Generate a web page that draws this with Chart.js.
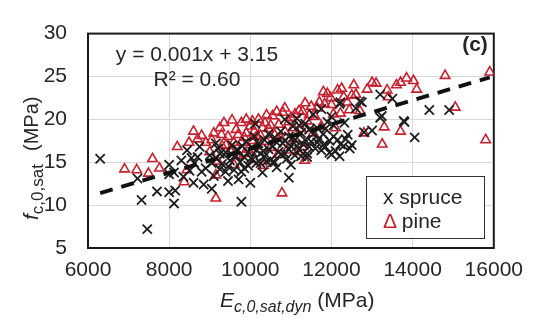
<!DOCTYPE html>
<html>
<head>
<meta charset="utf-8">
<script src="https://cdn.jsdelivr.net/npm/chart.js@4.4.1/dist/chart.umd.min.js"></script>
<style>
  body { margin: 0; background: #fff; }
  canvas { display: block; }
</style>
</head>
<body>
<canvas id="chart" width="533" height="327"></canvas>
<script>
// Spruce: dynamic modulus (MPa) vs compressive strength (MPa)
const spruceE = [
  6300, 7220, 7320, 7460, 7700, 8000, 8000, 8000, 8120, 8120,
  8150, 8300, 8440, 8500, 8600, 8620, 8700, 8750, 8850, 8900,
  9000, 9050, 9100, 9150, 9200, 9300, 9350, 9390, 9400, 9450,
  9500, 9550, 9600, 9650, 9710, 9780, 9780, 9800, 9850, 9900,
  9950, 10000, 10020, 10050, 10100, 10120, 10150, 10200, 10250, 10320,
  10350, 10400, 10450, 10510, 10550, 10600, 10650, 10700, 10750, 10800,
  10850, 10850, 10900, 10950, 10950, 11000, 11050, 11100, 11100, 11150,
  11200, 11250, 11300, 11350, 11400, 11450, 11500, 11550, 11600, 11650,
  11700, 11750, 11800, 11850, 11900, 11950, 12000, 12050, 12100, 12200,
  12200, 12220, 12220, 12300, 12320, 12400, 12500, 12600, 12700, 12750,
  12800, 13000, 13200, 13200, 13240, 13500, 13780, 13800, 14050, 14410,
  14900, 9250, 9700, 10300, 10600, 11000, 11200, 11400, 11800, 12000,
  9050, 9150, 9250, 9450, 9550, 9650, 9750, 9850, 9950, 10050,
  10150, 10250, 10350, 10450, 10550, 10650, 10750, 10850, 10950, 11050,
  11150, 11250, 11350, 11450, 11550, 11650, 11750, 11850, 11950, 12050,
  12150, 12350, 12450, 8350, 8550, 8800
];
const spruceF = [
  15.4, 13.1, 10.6, 7.2, 11.6, 11.5, 14.7, 13.6, 13.8, 10.2,
  11.7, 15.2, 16.4, 14.0, 12.6, 14.9, 15.6, 16.8, 12.4, 14.3,
  15.8, 11.9, 13.4, 17.2, 16.6, 14.8, 15.9, 13.9, 16.1, 12.8,
  15.2, 17.0, 14.1, 15.7, 13.0, 13.9, 10.4, 16.9, 15.6, 17.4,
  14.6, 12.6, 15.5, 16.7, 18.0, 19.5, 14.9, 17.2, 16.0, 16.3,
  17.6, 15.1, 18.3, 15.3, 16.8, 17.9, 14.4, 16.2, 18.6, 17.2,
  16.0, 20.0, 15.4, 13.2, 18.0, 16.9, 19.2, 15.8, 17.6, 20.1,
  16.5, 18.4, 17.1, 19.5, 16.0, 18.8, 17.4, 20.6, 16.6, 19.0,
  17.8, 21.2, 18.3, 16.8, 19.7, 17.5, 20.3, 18.0, 16.3, 21.8,
  15.7, 17.1, 22.0, 16.9, 19.6, 18.2, 17.0, 21.3, 22.1, 22.0,
  18.5, 18.7, 22.9, 20.2, 20.4, 22.4, 19.8, 19.7, 17.9, 21.1,
  21.1, 14.2, 16.4, 13.8, 15.0, 14.7, 19.3, 15.6, 17.0, 15.9,
  14.9, 15.5, 16.0, 14.5, 15.9, 16.4, 15.0, 14.3, 16.2, 15.3,
  16.4, 14.9, 15.7, 16.5, 15.0, 17.3, 15.9, 17.5, 16.5, 17.9,
  16.9, 15.7, 17.6, 16.8, 18.3, 17.3, 16.4, 18.9, 16.1, 19.3,
  17.6, 17.7, 16.6, 13.3, 15.5, 13.9
];

// Pine
const pineE = [
  6900, 7200, 7490, 7590, 7760, 8200, 8370, 8440, 8490, 8600,
  8700, 8900, 9000, 9100, 9150, 9150, 9200, 9290, 9350, 9400,
  9500, 9590, 9600, 9650, 9700, 9780, 9780, 9850, 9900, 9950,
  10000, 10050, 10100, 10100, 10150, 10200, 10250, 10320, 10360, 10400,
  10450, 10500, 10550, 10600, 10680, 10700, 10750, 10780, 10800, 10850,
  10900, 11000, 11050, 11100, 11170, 11200, 11250, 11290, 11300, 11340,
  11400, 11500, 11550, 11600, 11700, 11750, 11830, 11900, 11980, 12050,
  12100, 12150, 12220, 12300, 12390, 12440, 12500, 12550, 12700, 12800,
  12880, 13000, 13100, 13250, 13300, 13370, 13400, 13600, 13700, 13700,
  13850, 14020, 14100, 14800, 15050, 15800, 15900,
  8800, 9050, 9250, 9450, 9550, 9700, 9900, 10050, 10150, 10300,
  10400, 10500, 10650, 10850, 10950, 11100, 11350, 11450, 11650, 11800,
  12000, 12250, 12600, 9300, 9850
];
const pineF = [
  14.2, 14.1, 13.7, 15.4, 14.3, 16.8, 12.7, 14.1, 17.3, 18.6,
  17.7, 17.3, 16.2, 18.4, 13.5, 10.8, 15.1, 18.2, 19.6, 17.0,
  16.4, 17.3, 14.7, 18.8, 15.8, 17.3, 19.6, 17.9, 18.4, 16.5,
  19.2, 17.5, 18.6, 15.3, 16.9, 20.0, 18.1, 14.6, 19.6, 17.4,
  18.9, 16.7, 20.4, 18.2, 15.9, 19.4, 17.8, 11.4, 20.8, 18.6,
  16.4, 20.2, 19.0, 17.7, 16.2, 21.0, 18.9, 20.9, 16.8, 15.2,
  19.8, 21.5, 18.4, 20.3, 22.0, 19.2, 21.8, 23.0, 22.5, 20.6,
  19.0, 23.4, 20.7, 22.6, 22.0, 21.1, 22.8, 24.0, 21.0, 18.4,
  23.5, 24.3, 24.2, 17.1, 19.1, 23.4, 22.6, 24.0, 24.3, 18.6,
  24.8, 24.5, 23.5, 25.1, 21.4, 17.6, 25.5,
  18.1, 17.6, 19.0, 18.0, 19.9, 18.2, 20.0, 19.8, 18.0, 19.0,
  20.5, 19.3, 20.9, 21.3, 19.7, 20.6, 21.9, 20.5, 21.3, 23.2,
  21.7, 23.6, 22.9, 16.9, 16.0
];

// Trend line end points as drawn in the figure
const trendE = [6300, 15900];
const trendF = [11.4, 24.9];

const xTicks = [6000, 8000, 10000, 12000, 14000, 16000];
const yTicks = [5, 10, 15, 20, 25, 30];

const RED = 'rgb(200, 32, 46)';
const INK = '#262626';
const FONT = 'Arial, "Liberation Sans"';

function toPoints(xs, ys) {
  return xs.map((x, i) => ({ x: x, y: ys[i] }));
}

function drawParts(ctx, parts, startX, baseY) {
  let x = startX;
  ctx.textAlign = 'left';
  ctx.fillStyle = INK;
  parts.forEach(p => {
    ctx.font = p.f;
    if (p.at !== undefined) x = p.at;
    ctx.fillText(p.t, x, baseY + p.dy);
    x += ctx.measureText(p.t).width;
  });
}

// Titles, frame, equation and legend box drawn by hand
const decorations = {
  id: 'decorations',
  beforeDatasetsDraw(chart) {
    const { ctx, chartArea: a } = chart;
    ctx.save();
    ctx.strokeStyle = '#1a1a1a';
    ctx.lineWidth = 2;
    ctx.strokeRect(a.left, a.top, a.right - a.left, a.bottom - a.top);
    ctx.restore();
  },
  afterDraw(chart) {
    const { ctx } = chart;
    ctx.save();
    ctx.fillStyle = INK;
    ctx.textBaseline = 'alphabetic';

    // equation
    ctx.font = '21px ' + FONT;
    ctx.textAlign = 'center';
    ctx.fillText('y = 0.001x + 3.15', 197, 61);
    ctx.fillText('R² = 0.60', 197, 86);

    // panel label
    ctx.font = 'bold 21px ' + FONT;
    ctx.fillText('(c)', 475, 51);

    // legend box
    ctx.fillStyle = '#fff';
    ctx.fillRect(366, 176, 118, 62);
    ctx.strokeStyle = '#333';
    ctx.lineWidth = 1;
    ctx.strokeRect(366.5, 176.5, 118, 62);
    ctx.textAlign = 'left';
    ctx.font = '21px ' + FONT;
    ctx.fillStyle = INK;
    ctx.fillText('x spruce', 383, 204);
    ctx.fillStyle = RED;
    ctx.fillText('Δ', 383, 228);
    ctx.fillStyle = INK;
    ctx.fillText(' pine', 396, 228);

    // x axis title: E c,0,sat,dyn (MPa)
    drawParts(ctx, [
      { t: 'E', f: 'italic 21px ' + FONT, dy: 0 },
      { t: 'c,0,sat,dyn', f: 'italic 16px ' + FONT, dy: 5 },
      { t: ' (MPa)', f: '21px ' + FONT, dy: 0 }
    ], 220, 307);

    // y axis title: f c,0,sat (MPa), rotated
    ctx.translate(38, 0);
    ctx.rotate(-Math.PI / 2);
    drawParts(ctx, [
      { t: 'f', f: 'italic 21px ' + FONT, dy: 0, at: -220 },
      { t: 'c,0,sat', f: '17px ' + FONT, dy: 5 },
      { t: '(MPa)', f: '20px ' + FONT, dy: 0, at: -151 }
    ], 0, 0);
    ctx.restore();
  }
};

const ctx = document.getElementById('chart').getContext('2d');
new Chart(ctx, {
  type: 'scatter',
  data: {
    datasets: [
      {
        label: 'trend',
        type: 'line',
        data: toPoints(trendE, trendF),
        borderColor: '#111',
        borderWidth: 4,
        borderDash: [13, 9],
        pointRadius: 0,
        fill: false,
        order: 0
      },
      {
        label: 'pine',
        data: toPoints(pineE, pineF),
        pointStyle: 'triangle',
        pointRadius: 5.5,
        borderColor: RED,
        backgroundColor: 'rgba(0,0,0,0)',
        borderWidth: 1.6,
        order: 2
      },
      {
        label: 'spruce',
        data: toPoints(spruceE, spruceF),
        pointStyle: 'crossRot',
        pointRadius: 6.5,
        borderColor: '#1e1e1e',
        borderWidth: 1.8,
        order: 1
      }
    ]
  },
  options: {
    responsive: false,
    animation: false,
    layout: { padding: { top: 16, right: 34, left: 0, bottom: 0 } },
    plugins: {
      legend: { display: false },
      tooltip: { enabled: false }
    },
    scales: {
      x: {
        type: 'linear',
        min: 6000,
        max: 16000,
        afterBuildTicks: s => { s.ticks = xTicks.map(v => ({ value: v })); },
        afterFit: s => { s.height = 79; },
        ticks: {
          color: INK,
          font: { family: FONT, size: 21 },
          padding: 10,
          maxRotation: 0,
          callback: v => String(v)
        },
        grid: { color: '#d9d9d9', lineWidth: 1, drawTicks: false },
        border: { display: false }
      },
      y: {
        min: 5,
        max: 30,
        afterBuildTicks: s => { s.ticks = yTicks.map(v => ({ value: v })); },
        afterFit: s => { s.width = 88; },
        ticks: {
          color: INK,
          font: { family: FONT, size: 21 },
          padding: 21,
          callback: v => String(v)
        },
        grid: { color: '#d9d9d9', lineWidth: 1, drawTicks: false },
        border: { display: false }
      }
    }
  },
  plugins: [decorations]
});
</script>
</body>
</html>
